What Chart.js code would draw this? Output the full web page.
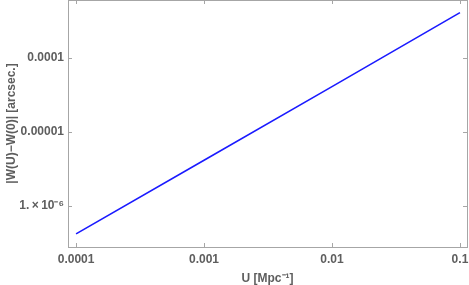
<!DOCTYPE html>
<html>
<head>
<meta charset="utf-8">
<script src="https://cdn.jsdelivr.net/npm/chart.js@4"></script>
<style>
  html, body { margin: 0; padding: 0; background: #fff; }
  #wrap { width: 469px; height: 285px; }
</style>
</head>
<body>
<div id="wrap"><canvas id="chart"></canvas></div>
<script>
// data
const uValues = [0.0001, 0.001, 0.01, 0.1];
const wValues = [4.2e-7, 4.15e-6, 4.1e-5, 4.1e-4];
const xTicks = [0.0001, 0.001, 0.01, 0.1];
const xTickLabels = ['0.0001', '0.001', '0.01', '0.1'];
const yTicks = [1e-6, 1e-5, 1e-4];
const yTickLabels = ['1.\u2009\u00d7\u200910\u207b\u2076', '0.00001', '0.0001'];

const gray = '#a6a6a6';
const textGray = '#5e5e5e';
const labelFont = { family: 'Liberation Sans, Arial, sans-serif', size: 12, weight: 'bold' };

// frame around the plot + inward tick marks
const framePlugin = {
    id: 'frame',
    afterDraw(chart) {
        const ctx = chart.ctx;
        const a = chart.chartArea;
        const xs = chart.scales.x, ys = chart.scales.y;
        ctx.save();
        ctx.strokeStyle = gray;
        ctx.lineWidth = 1;
        ctx.strokeRect(Math.round(a.left) + 0.5, Math.round(a.top) + 0.5,
            Math.round(a.right - a.left), Math.round(a.bottom - a.top));
        ctx.beginPath();
        xTicks.forEach(function(v) {
            const px = Math.round(xs.getPixelForValue(v)) + 0.5;
            ctx.moveTo(px, a.bottom); ctx.lineTo(px, a.bottom - 4);
            ctx.moveTo(px, a.top); ctx.lineTo(px, a.top + 4);
        });
        yTicks.forEach(function(v) {
            const py = Math.round(ys.getPixelForValue(v)) + 0.5;
            ctx.moveTo(a.left, py); ctx.lineTo(a.left + 4, py);
            ctx.moveTo(a.right, py); ctx.lineTo(a.right - 4, py);
        });
        ctx.stroke();
        ctx.restore();
    }
};

new Chart(document.getElementById('chart'), {
    type: 'line',
    data: {
        datasets: [{
            data: uValues.map((u, i) => ({ x: u, y: wValues[i] })),
            borderColor: '#1a1aff',
            borderWidth: 1.6,
            pointRadius: 0,
            fill: false,
            tension: 0
        }]
    },
    options: {
        responsive: true,
        maintainAspectRatio: false,
        animation: false,
        layout: { padding: { left: 0, right: 2, top: 0, bottom: 0 } },
        plugins: { legend: { display: false }, tooltip: { enabled: false } },
        scales: {
            x: {
                type: 'logarithmic',
                min: 8.65e-5,
                max: 0.1135,
                grid: { display: false, drawTicks: false },
                border: { display: false },
                afterBuildTicks: function(s) { s.ticks = xTicks.map(v => ({ value: v })); },
                afterFit: function(s) { s.height = 38; s.paddingLeft = 0; s.paddingRight = 0; },
                ticks: {
                    autoSkip: false,
                    maxRotation: 0,
                    padding: 5,
                    color: textGray,
                    font: labelFont,
                    callback: function(v) { const i = xTicks.indexOf(v); return i >= 0 ? xTickLabels[i] : ''; }
                },
                title: {
                    display: true,
                    text: 'U [Mpc\u207b\u00b9]',
                    color: textGray,
                    font: { family: labelFont.family, size: 12, weight: 'bold', lineHeight: 1 },
                    padding: { top: 0, bottom: 0 }
                }
            },
            y: {
                type: 'logarithmic',
                min: 2.79e-7,
                max: 6.08e-4,
                grid: { display: false, drawTicks: false },
                border: { display: false },
                afterBuildTicks: function(s) { s.ticks = yTicks.map(v => ({ value: v })); },
                afterFit: function(s) { s.width = 68; s.paddingTop = 0; s.paddingBottom = 0; },
                ticks: {
                    autoSkip: false,
                    padding: 4,
                    color: textGray,
                    font: labelFont,
                    callback: function(v) { const i = yTicks.indexOf(v); return i >= 0 ? yTickLabels[i] : ''; }
                },
                title: {
                    display: true,
                    text: '|W(U)\u2212W(0)| [arcsec.]',
                    color: textGray,
                    font: { family: labelFont.family, size: 12, weight: 'bold', lineHeight: 1 },
                    padding: { top: 6, bottom: 0 }
                }
            }
        }
    },
    plugins: [framePlugin]
});
</script>
</body>
</html>
